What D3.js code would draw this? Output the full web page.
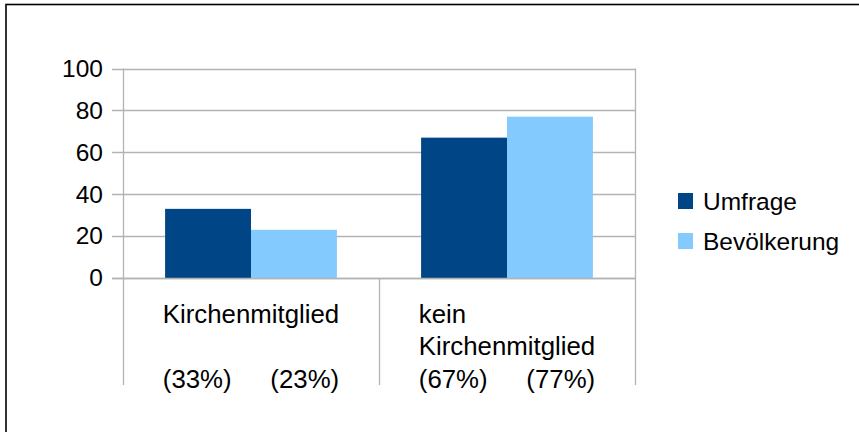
<!DOCTYPE html>
<html>
<head>
<meta charset="utf-8">
<script src="https://cdn.jsdelivr.net/npm/d3@7"></script>
<style>
  html, body { margin: 0; padding: 0; background: #fff; }
  svg { display: block; }
  text { font-family: "Liberation Sans", Arial, sans-serif; fill: #000; }
</style>
</head>
<body>
<script>
// Survey vs. population share of church members
const categories = ["Kirchenmitglied", "kein Kirchenmitglied"];
const categoryLines = [["Kirchenmitglied"], ["kein", "Kirchenmitglied"]];
const series = ["Umfrage", "Bevölkerung"];
const umfrage = [33, 67];
const bevoelkerung = [23, 77];
const yTicks = [0, 20, 40, 60, 80, 100];
const colors = ["#004586", "#83caff"];

const W = 859, H = 432;
const fontSize = 24.5;
const catFontSize = 25.8;
const gridColor = "#b3b3b3";

const svg = d3.select("body").append("svg")
  .attr("width", W).attr("height", H);

// outer frame (only top and left edges fall inside the view)
svg.append("rect")
  .attr("x", 6).attr("y", 4.5)
  .attr("width", W + 20).attr("height", H + 20)
  .attr("fill", "none").attr("stroke", "#000").attr("stroke-width", 1.6);

const plot = { left: 123, right: 635, top: 68.5, bottom: 278, labelBottom: 385 };

const x = d3.scaleBand().domain(categories).range([plot.left, plot.right]).padding(0);
const xs = d3.scaleBand().domain(series).range([0, x.bandwidth()]).paddingInner(0).paddingOuter(0.49);
const y = d3.scaleLinear().domain([0, 100]).range([plot.bottom, plot.top]);

// horizontal grid lines, starting at the tick marks left of the axis
svg.append("g").selectAll("line").data(yTicks).join("line")
  .attr("x1", plot.left - 11).attr("x2", plot.right)
  .attr("y1", d => Math.round(y(d)) + 0.5).attr("y2", d => Math.round(y(d)) + 0.5)
  .attr("stroke", gridColor).attr("stroke-width", 1.3);

// y axis labels
const yAxis = d3.axisLeft(y).tickValues(yTicks).tickSizeInner(11).tickSizeOuter(0).tickPadding(9);
const gy = svg.append("g").attr("transform", `translate(${plot.left},0)`).call(yAxis);
gy.select(".domain").remove();
gy.selectAll(".tick line").remove();
gy.selectAll(".tick text")
  .attr("fill", "#000")
  .style("font-family", '"Liberation Sans", Arial, sans-serif')
  .style("font-size", fontSize + "px");

// vertical axis line, category separators and right edge
const vLines = [plot.left, ...categories.map(c => x(c) + x.bandwidth())];
svg.append("g").selectAll("line").data(vLines).join("line")
  .attr("x1", d => Math.round(d) + 0.5).attr("x2", d => Math.round(d) + 0.5)
  .attr("y1", (d, i) => (i === 0 || i === vLines.length - 1) ? plot.top : plot.bottom)
  .attr("y2", plot.labelBottom)
  .attr("stroke", gridColor).attr("stroke-width", 1.3);

// bars
const values = [umfrage, bevoelkerung];
series.forEach((s, si) => {
  svg.append("g").selectAll("rect").data(categories).join("rect")
    .attr("x", c => x(c) + xs(s))
    .attr("width", xs.bandwidth())
    .attr("y", (c, ci) => y(values[si][ci]))
    .attr("height", (c, ci) => y(0) - y(values[si][ci]))
    .attr("fill", colors[si]);
});

// redraw the baseline over the bars
svg.append("line")
  .attr("x1", plot.left - 11).attr("x2", plot.right)
  .attr("y1", Math.round(y(0)) + 0.5).attr("y2", Math.round(y(0)) + 0.5)
  .attr("stroke", gridColor).attr("stroke-width", 1.3);

// category labels: left-aligned block centred in its band, with the series shares below
const lineH = 32.5;
const firstBase = 322.7;
categories.forEach((c, ci) => {
  const cx = x(c) + x.bandwidth() / 2;
  const g = svg.append("g");
  const texts = categoryLines[ci].map((t, li) =>
    g.append("text").attr("y", firstBase + li * lineH)
      .style("font-size", catFontSize + "px").text(t));
  const w = d3.max(texts, t => t.node().getComputedTextLength());
  const left = cx - w / 2;
  texts.forEach(t => t.attr("x", left));
  const pctY = firstBase + 2 * lineH;
  g.append("text").attr("x", left).attr("y", pctY)
    .style("font-size", catFontSize + "px").text(`(${umfrage[ci]}%)`);
  g.append("text").attr("x", left + w).attr("y", pctY).attr("text-anchor", "end")
    .style("font-size", catFontSize + "px").text(`(${bevoelkerung[ci]}%)`);
});

// legend
const legend = svg.append("g").attr("transform", "translate(678,193)");
series.forEach((s, i) => {
  legend.append("rect").attr("x", 0).attr("y", i * 40).attr("width", 15).attr("height", 16)
    .attr("fill", colors[i]);
  legend.append("text").attr("x", 25).attr("y", i * 40 + 16.5)
    .style("font-size", fontSize + "px").text(s);
});
</script>
</body>
</html>
